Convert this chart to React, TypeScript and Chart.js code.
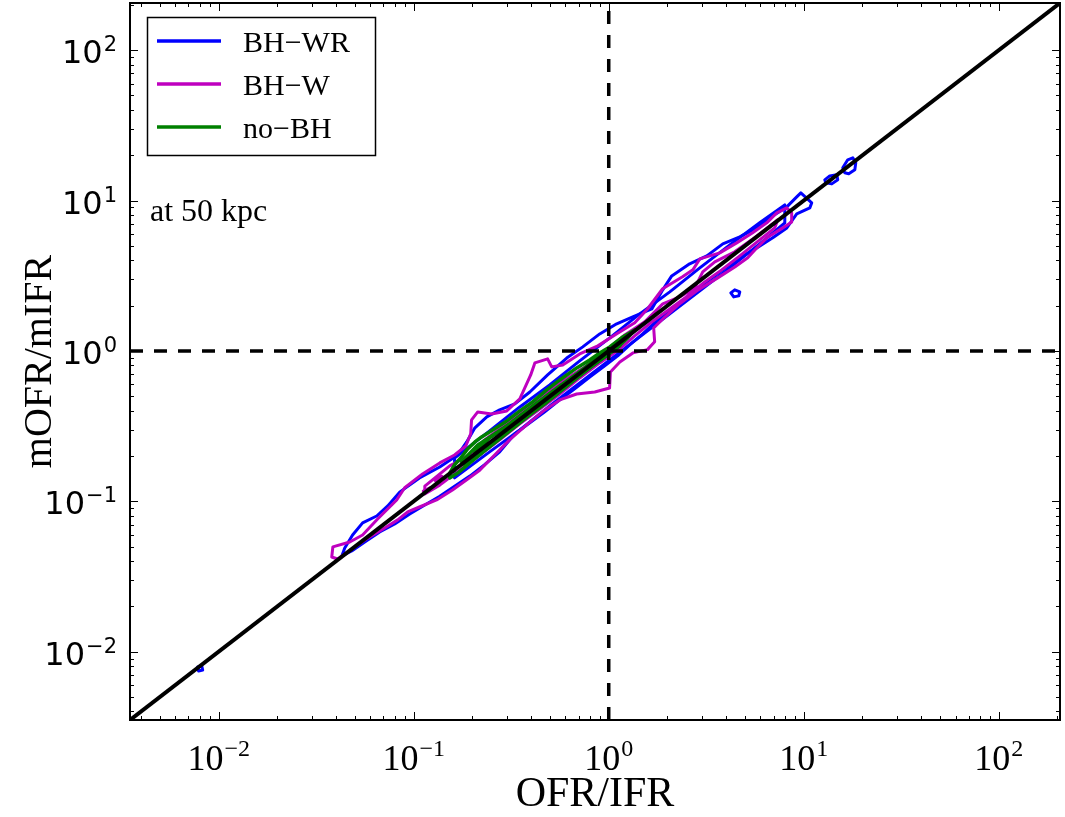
import { useEffect, useRef } from 'react';
import { Chart, registerables } from 'chart.js';

Chart.register(...registerables);

// Axis range (both axes share it) and decade tick labels (base 10, exponent)
const AXIS_MIN = 0.00351;
const AXIS_MAX = 206;
const TICK_VALUES = [0.01, 0.1, 1, 10, 100];
const TICK_EXPONENTS = ['−2', '−1', '0', '1', '2'];
const TICK_BASE = '10';
const MINOR_STEPS = [2, 3, 4, 5, 6, 7, 8, 9];
const DECADES = [0.001, 0.01, 0.1, 1, 10, 100];

const X_TITLE = 'OFR/IFR';
const Y_TITLE = 'mOFR/mIFR';
const SERIES_NAMES = ['BH−WR', 'BH−W', 'no−BH'];
const SERIES_COLORS = ['#0000ff', '#bf00bf', '#008000'];
const ANNOTATION = 'at 50 kpc';

// BH−WR contours (OFR/IFR, mOFR/mIFR)
const bhwrOuter: [number, number][] = [
  [0.0428, 0.0433], [0.0443, 0.0489], [0.0486, 0.0597], [0.0547, 0.0718], [0.0646, 0.0798],
  [0.0736, 0.0931], [0.0847, 0.115], [0.107, 0.143], [0.136, 0.169], [0.168, 0.203],
  [0.187, 0.248], [0.206, 0.308], [0.237, 0.364], [0.276, 0.405], [0.330, 0.444],
  [0.394, 0.533], [0.486, 0.692], [0.609, 0.897], [0.736, 1.064], [0.899, 1.297],
  [1.099, 1.514], [1.328, 1.683], [1.663, 1.901], [1.892, 2.547], [2.104, 3.155],
  [2.600, 3.793], [3.184, 4.285], [3.846, 5.152], [4.699, 5.730], [5.741, 6.577],
  [6.699, 7.674], [8.185, 9.078], [9.204, 10.58], [9.661, 11.25], [10.99, 9.660],
  [10.74, 8.939], [9.204, 8.160],
  [8.185, 6.577], [6.934, 5.649], [5.741, 4.842], [4.699, 4.156], [3.846, 3.459],
  [3.184, 2.877], [2.600, 2.360], [2.128, 1.901], [1.762, 1.584], [1.494, 1.297],
  [1.281, 1.096], [1.112, 0.926], [0.954, 0.795], [0.799, 0.671], [0.669, 0.559],
  [0.561, 0.472], [0.470, 0.393], [0.394, 0.332], [0.330, 0.281], [0.276, 0.213],
  [0.231, 0.175], [0.194, 0.147], [0.162, 0.126], [0.136, 0.108], [0.114, 0.0945],
  [0.0954, 0.0823], [0.0799, 0.0706], [0.0669, 0.0625], [0.0561, 0.0536], [0.0481, 0.0467],
];
const bhwrInner: [number, number][] = [
  [0.162, 0.194], [0.245, 0.294], [0.350, 0.424], [0.498, 0.594], [0.710, 0.858],
  [1.012, 1.220], [1.442, 1.762], [2.056, 2.469], [2.931, 3.565], [4.176, 5.075],
  [5.943, 7.110], [7.993, 9.357],
  [7.993, 7.110], [5.943, 5.152], [4.176, 3.565], [2.931, 2.506], [2.056, 1.762],
  [1.442, 1.239], [1.012, 0.871], [0.710, 0.612], [0.498, 0.430], [0.350, 0.298],
  [0.245, 0.213], [0.162, 0.143],
];
const bhwrIslandA: [number, number][] = [
  [4.227, 2.432], [4.426, 2.547], [4.699, 2.470], [4.642, 2.323], [4.375, 2.287],
];
const bhwrIslandB: [number, number][] = [
  [12.82, 13.73], [13.59, 14.59], [14.77, 14.83], [14.94, 13.73], [13.92, 12.91], [12.97, 13.12],
];
const bhwrIslandC: [number, number][] = [
  [15.85, 16.51], [16.81, 18.66], [17.84, 19.24], [18.48, 17.82], [18.27, 16.00],
  [17.01, 15.06], [16.22, 15.29],
];
const bhwrIslandD: [number, number][] = [
  [0.00780, 0.00791], [0.00819, 0.00802], [0.00828, 0.00755], [0.00789, 0.00743],
];

// BH−W contours
const bhwOuter: [number, number][] = [
  [0.0380, 0.0426], [0.0385, 0.0497], [0.0470, 0.0536], [0.0547, 0.0597], [0.0653, 0.0762],
  [0.0818, 0.102], [0.0899, 0.123], [0.111, 0.152], [0.136, 0.180], [0.162, 0.203],
  [0.185, 0.233], [0.196, 0.281], [0.198, 0.348], [0.213, 0.393], [0.251, 0.381],
  [0.300, 0.399], [0.350, 0.480], [0.398, 0.692], [0.418, 0.832], [0.486, 0.885],
  [0.510, 0.783], [0.581, 0.807], [0.710, 0.955], [0.879, 1.08], [1.10, 1.30],
  [1.36, 1.54], [1.58, 1.90], [1.89, 2.59], [2.39, 3.11], [2.70, 3.46],
  [2.93, 4.09], [3.71, 4.49], [4.53, 5.23], [5.47, 6.10], [6.46, 7.11],
  [7.27, 8.28], [8.18, 8.94], [8.67, 8.28], [8.67, 7.21],
  [7.80, 6.58], [6.46, 5.65], [5.74, 4.84], [5.16, 4.16], [4.43, 3.62],
  [3.62, 3.06], [2.83, 2.51], [2.31, 2.06], [1.94, 1.68], [1.70, 1.42],
  [1.72, 1.15], [1.58, 1.02], [1.33, 0.970], [1.14, 0.845], [1.02, 0.725],
  [1.01, 0.567], [0.848, 0.533], [0.685, 0.517], [0.561, 0.472], [0.470, 0.405],
  [0.379, 0.322], [0.310, 0.256], [0.260, 0.203], [0.218, 0.161], [0.187, 0.139],
  [0.158, 0.119], [0.131, 0.102], [0.107, 0.0916], [0.0931, 0.0849], [0.0828, 0.0752],
  [0.0710, 0.0664], [0.0561, 0.0553], [0.0459, 0.0460], [0.0407, 0.0413],
];
const bhwInner: [number, number][] = [
  [0.114, 0.126], [0.153, 0.172], [0.194, 0.203], [0.231, 0.256], [0.293, 0.322],
  [0.371, 0.405], [0.470, 0.509], [0.561, 0.612], [0.753, 0.783], [0.954, 0.985],
  [1.208, 1.277], [1.530, 1.560], [1.892, 2.054], [2.312, 2.287], [2.761, 2.625],
  [3.034, 3.356], [3.499, 3.909], [4.426, 4.561], [5.408, 5.479], [6.699, 6.787],
  [7.362, 7.447],
  [7.096, 6.577], [5.943, 5.479], [4.699, 4.285], [3.795, 3.459], [3.105, 2.877],
  [2.541, 2.323], [2.056, 1.901], [1.663, 1.560], [1.359, 1.258], [1.139, 1.031],
  [0.899, 0.832], [0.710, 0.661], [0.561, 0.517], [0.443, 0.411], [0.350, 0.327],
  [0.276, 0.256], [0.218, 0.203], [0.172, 0.161], [0.136, 0.128], [0.114, 0.112],
];
const bhwIslandA: [number, number][] = [
  [0.128, 0.139], [0.139, 0.147], [0.143, 0.143], [0.131, 0.134],
];
const bhwIslandB: [number, number][] = [
  [0.112, 0.117], [0.121, 0.123], [0.119, 0.119],
];

// no−BH contours
const nobhOuter: [number, number][] = [
  [0.153, 0.154], [0.162, 0.175], [0.176, 0.197], [0.189, 0.223], [0.206, 0.248],
  [0.223, 0.268], [0.254, 0.298], [0.300, 0.342], [0.350, 0.399], [0.407, 0.458],
  [0.481, 0.551], [0.561, 0.641], [0.685, 0.771], [0.799, 0.871], [0.899, 0.970],
  [1.012, 1.063], [1.180, 1.239], [1.359, 1.379],
  [1.251, 1.220], [1.112, 1.063], [0.954, 0.912], [0.799, 0.771], [0.669, 0.641],
  [0.561, 0.533], [0.470, 0.444], [0.394, 0.375], [0.330, 0.312], [0.276, 0.260],
  [0.231, 0.216], [0.194, 0.180], [0.168, 0.154], [0.153, 0.143],
];
const nobhMiddle: [number, number][] = [
  [0.176, 0.183], [0.213, 0.237], [0.251, 0.272], [0.310, 0.327], [0.385, 0.405],
  [0.470, 0.487], [0.595, 0.612], [0.753, 0.771], [0.954, 0.985], [1.208, 1.220],
  [1.139, 1.080], [0.899, 0.871], [0.710, 0.692], [0.561, 0.550], [0.443, 0.438],
  [0.350, 0.348], [0.276, 0.268], [0.218, 0.213], [0.183, 0.175],
];
const nobhInner: [number, number][] = [
  [0.206, 0.213], [0.245, 0.264], [0.293, 0.308], [0.350, 0.369], [0.443, 0.465],
  [0.561, 0.585], [0.710, 0.725], [0.899, 0.912], [1.112, 1.113],
  [1.073, 1.015], [0.879, 0.845], [0.693, 0.671], [0.548, 0.533], [0.433, 0.424],
  [0.341, 0.337], [0.276, 0.272], [0.231, 0.230], [0.206, 0.200],
];

// Reference lines
const ONE_TO_ONE: [number, number][] = [[AXIS_MIN, AXIS_MIN], [AXIS_MAX, AXIS_MAX]];
const UNITY_X: [number, number][] = [[1, AXIS_MIN], [1, AXIS_MAX]];
const UNITY_Y: [number, number][] = [[AXIS_MIN, 1], [AXIS_MAX, 1]];

const toPoints = (pairs: [number, number][], closed: boolean) => {
  const pts = pairs.map(([x, y]) => ({ x, y }));
  if (closed) pts.push({ x: pairs[0][0], y: pairs[0][1] });
  return pts;
};

const contour = (pairs: [number, number][], color: string, order: number, closed = true) => ({
  data: toPoints(pairs, closed),
  borderColor: color,
  borderWidth: 3,
  showLine: true,
  pointRadius: 0,
  fill: false,
  tension: 0,
  borderJoinStyle: 'round' as const,
  borderCapStyle: 'round' as const,
  order,
});

const SERIF = '"Liberation Serif", "DejaVu Serif", serif';
const SANS = '"DejaVu Sans", sans-serif';

// Frame, inward ticks on all four sides, power-of-ten tick labels,
// legend box and annotation
const framePlugin = {
  id: 'frameAndLegend',
  afterDatasetsDraw(chart: any) {
    const { ctx, chartArea: a, scales } = chart;
    const xs = scales.x;
    const ys = scales.y;
    const seg = (x1: number, y1: number, x2: number, y2: number) => {
      ctx.beginPath();
      ctx.moveTo(x1, y1);
      ctx.lineTo(x2, y2);
      ctx.stroke();
    };
    ctx.save();
    ctx.strokeStyle = '#000';
    ctx.lineWidth = 1;
    for (const d of DECADES) {
      for (const m of [1, ...MINOR_STEPS]) {
        const v = d * m;
        if (v < AXIS_MIN || v > AXIS_MAX) continue;
        const len = m === 1 ? 8 : 4;
        const px = Math.round(xs.getPixelForValue(v)) + 0.5;
        seg(px, a.bottom, px, a.bottom - len);
        seg(px, a.top, px, a.top + len);
        const py = Math.round(ys.getPixelForValue(v)) + 0.5;
        seg(a.left, py, a.left + len, py);
        seg(a.right, py, a.right - len, py);
      }
    }
    ctx.lineWidth = 2;
    ctx.strokeRect(a.left, a.top, a.right - a.left, a.bottom - a.top);

    // tick labels: "10" with a raised exponent
    ctx.fillStyle = '#000';
    ctx.textBaseline = 'alphabetic';
    ctx.textAlign = 'left';
    TICK_VALUES.forEach((v, i) => {
      const exp = TICK_EXPONENTS[i];
      // y axis, sans serif, right-aligned
      const py = ys.getPixelForValue(v);
      ctx.font = `21px ${SANS}`;
      const ew = ctx.measureText(exp).width;
      ctx.font = `32px ${SANS}`;
      const bw = ctx.measureText(TICK_BASE).width;
      const right = a.left - 13;
      ctx.fillText(TICK_BASE, right - ew - bw - 1, py + 13);
      ctx.font = `21px ${SANS}`;
      ctx.fillText(exp, right - ew, py + 1);
      // x axis, serif, centred on the tick
      const px = xs.getPixelForValue(v);
      ctx.font = `24px ${SERIF}`;
      const ew2 = ctx.measureText(exp).width;
      ctx.font = `36px ${SERIF}`;
      const bw2 = ctx.measureText(TICK_BASE).width;
      const left = px - (bw2 + ew2 + 1) / 2;
      ctx.fillText(TICK_BASE, left, a.bottom + 50);
      ctx.font = `24px ${SERIF}`;
      ctx.fillText(exp, left + bw2 + 1, a.bottom + 36);
    });

    ctx.font = `32px ${SERIF}`;
    ctx.fillText(ANNOTATION, 150, 221);

    ctx.fillStyle = '#fff';
    ctx.fillRect(147, 17, 228, 138);
    ctx.lineWidth = 1.5;
    ctx.strokeStyle = '#000';
    ctx.strokeRect(147.5, 17.5, 228, 138);
    SERIES_NAMES.forEach((name, i) => {
      const y = 41 + i * 43;
      ctx.strokeStyle = SERIES_COLORS[i];
      ctx.lineWidth = 3.5;
      seg(157, y, 221, y);
      ctx.fillStyle = '#000';
      ctx.font = `30px ${SERIF}`;
      ctx.fillText(name, 243, y + 11);
    });
    ctx.restore();
  },
};

export default function App() {
  const canvasRef = useRef<HTMLCanvasElement>(null);

  useEffect(() => {
    const canvas = canvasRef.current;
    if (!canvas) return;
    const [blue, magenta, green] = SERIES_COLORS;
    const chart = new Chart(canvas, {
      type: 'scatter',
      data: {
        datasets: [
          { ...contour(ONE_TO_ONE, '#000', 0, false), borderWidth: 4, borderCapStyle: 'butt' as const },
          { ...contour(UNITY_X, '#000', 1, false), borderWidth: 3.5, borderDash: [13, 11], borderCapStyle: 'butt' as const },
          { ...contour(UNITY_Y, '#000', 1, false), borderWidth: 3.5, borderDash: [13, 11], borderCapStyle: 'butt' as const },
          { ...contour(nobhOuter, green, 2), borderWidth: 3.5 },
          { ...contour(nobhMiddle, green, 2), borderWidth: 3.5 },
          { ...contour(nobhInner, green, 2), borderWidth: 3.5 },
          contour(bhwOuter, magenta, 3),
          contour(bhwInner, magenta, 3),
          contour(bhwIslandA, magenta, 3),
          contour(bhwIslandB, magenta, 3, false),
          contour(bhwrOuter, blue, 4),
          contour(bhwrInner, blue, 4),
          contour(bhwrIslandA, blue, 4),
          contour(bhwrIslandB, blue, 4),
          contour(bhwrIslandC, blue, 4),
          contour(bhwrIslandD, blue, 4),
        ],
      },
      options: {
        animation: false,
        responsive: false,
        devicePixelRatio: 1,
        events: [],
        layout: { padding: { top: 3, right: 5, bottom: 0, left: 0 } },
        plugins: { legend: { display: false }, tooltip: { enabled: false } },
        scales: {
          x: {
            type: 'logarithmic',
            min: AXIS_MIN,
            max: AXIS_MAX,
            afterFit: (s: any) => {
              s.height = 97;
              s.paddingLeft = 0;
              s.paddingRight = 0;
            },
            afterBuildTicks: (s: any) => { s.ticks = TICK_VALUES.map((v) => ({ value: v })); },
            ticks: { display: false },
            grid: { display: false, drawTicks: false },
            border: { display: false },
            title: {
              display: true,
              text: X_TITLE,
              color: '#000',
              font: { family: SERIF, size: 42, lineHeight: 1 },
              padding: { top: 0, bottom: 1 },
            },
          },
          y: {
            type: 'logarithmic',
            min: AXIS_MIN,
            max: AXIS_MAX,
            afterFit: (s: any) => {
              s.width = 130;
              s.paddingTop = 0;
              s.paddingBottom = 0;
            },
            afterBuildTicks: (s: any) => { s.ticks = TICK_VALUES.map((v) => ({ value: v })); },
            ticks: { display: false },
            grid: { display: false, drawTicks: false },
            border: { display: false },
            title: {
              display: true,
              text: Y_TITLE,
              color: '#000',
              font: { family: SERIF, size: 40, lineHeight: 1 },
              padding: { top: 20, bottom: 0 },
            },
          },
        },
      },
      plugins: [framePlugin],
    });
    return () => chart.destroy();
  }, []);

  return (
    <div style={{ position: 'fixed', left: 0, top: 0, width: 1065, height: 817, background: '#fff' }}>
      <canvas ref={canvasRef} width={1065} height={817} style={{ display: 'block' }} />
    </div>
  );
}
